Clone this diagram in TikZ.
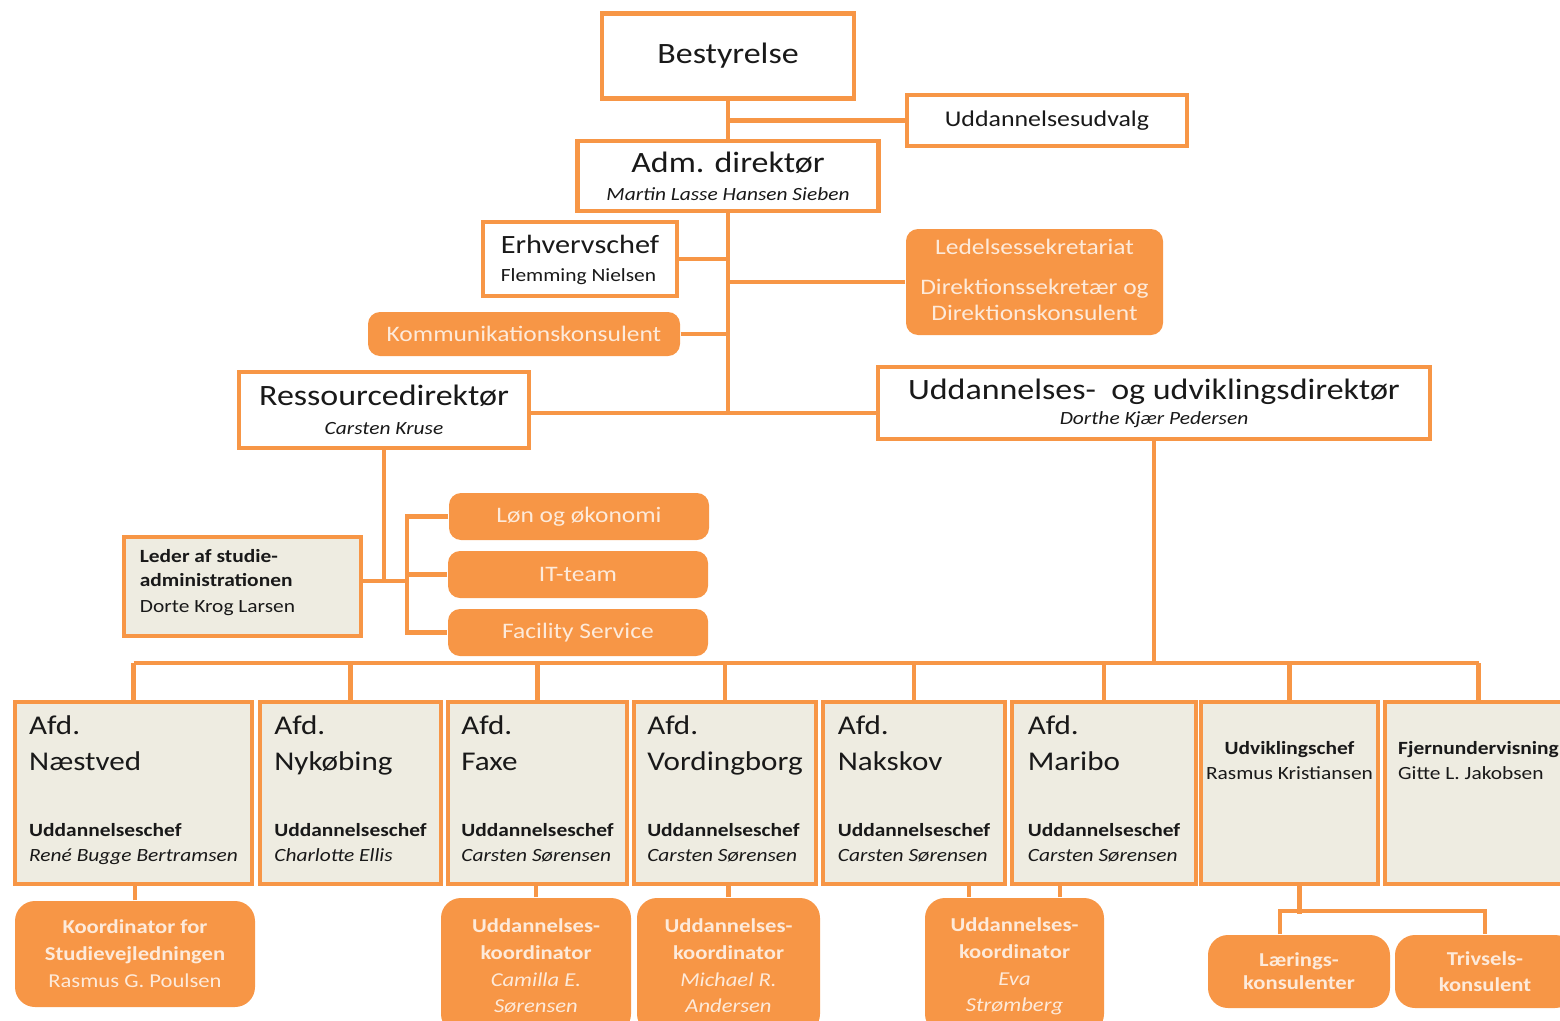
\documentclass[tikz,border=0pt]{standalone}
\usepackage{fontspec}
\setmainfont{Carlito}[FakeStretch=1.15]
\usetikzlibrary{backgrounds}

\definecolor{orangeline}{RGB}{247,150,70}
\definecolor{orangefill}{RGB}{247,150,70}
\definecolor{cream}{RGB}{253,234,218}
\definecolor{greyfill}{RGB}{238,236,225}
\definecolor{darktext}{RGB}{25,25,25}

\newcommand{\fsTitle}{\fontsize{8.4}{10}\selectfont}
\newcommand{\fsAfd}{\fontsize{7.7}{9}\selectfont}
\newcommand{\fsErh}{\fontsize{7.5}{9}\selectfont}
\newcommand{\fsMid}{\fontsize{6.3}{8}\selectfont}
\newcommand{\fsUdv}{\fontsize{6.4}{8}\selectfont}

\begin{document}
\begin{tikzpicture}[x=0.1mm,y=-0.1mm,
  box/.style={draw=orangeline,line width=1.2pt,fill=white,inner sep=0pt,
    text=darktext,align=center,font=\fontsize{5.3}{7}\selectfont},
  afdbox/.style={box,fill=greyfill,align=left,minimum height=18.2mm},
  orangebox/.style={fill=orangefill,rounded corners=1.2mm,inner sep=0pt,
    text=cream,align=center,font=\fontsize{5.3}{7}\selectfont},
  koordbox/.style={orangebox,rounded corners=2mm,font=\fontsize{5.6}{7}\selectfont},
  conn/.style={draw=orangeline,line width=1.2pt}]
\useasboundingbox (0,0) rectangle (1560,1021);
% ---------- top ----------
\node[box,minimum width=25.2mm,minimum height=8.5mm] (bestyrelse) at (728,56) {\fsTitle Bestyrelse};
\node[box,minimum width=28mm,minimum height=5.1mm] (udvalg) at (1047,120.5) {\fsUdv Uddannelsesudvalg};
\node[box,minimum width=30.1mm,minimum height=7mm] (adm) at (728,176)
  {\fsTitle Adm. direktør\\[1pt]\itshape Martin Lasse Hansen Sieben};
\node[box,align=left,minimum width=19.4mm,minimum height=7.4mm] (erhverv) at (580,259)
  {\fsErh Erhvervschef\\[1pt]Flemming Nielsen\\[-6.8pt]};
\node[orangebox,minimum width=25.7mm,minimum height=10.6mm] (ledelse) at (1034.5,282)
  {\fsMid Ledelsessekretariat\\[4.4pt]\fsMid Direktionssekretær og\\[0.4pt]\fsMid Direktionskonsulent\\[-6pt]};
\node[orangebox,minimum width=31.2mm,minimum height=4.4mm] (komm) at (524,334) {\fsMid Kommunikationskonsulent};
\node[box,minimum width=29mm,minimum height=7.6mm] (ressource) at (384,410)
  {\fsTitle Ressourcedirektør\\[1.3pt]\itshape Carsten Kruse};
\node[box,minimum width=55.2mm,minimum height=7.2mm] (uddir) at (1154,403)
  {\fsTitle Uddannelses-\ \ og udviklingsdirektør\\[0.1pt]\itshape Dorthe Kjær Pedersen};
% ---------- ressourceomraadet ----------
\node[box,fill=greyfill,align=left,minimum width=23.7mm,minimum height=9.9mm] (leder) at (242.5,586.5)
  {\bfseries Leder af studie-\\[-0.2pt]\bfseries administrationen\\[0.4pt]Dorte Krog Larsen\rule{5mm}{0pt}\\[-3.7pt]};
\node[orangebox,minimum width=26mm,minimum height=4.7mm] (loen) at (579,516.5) {\fsMid Løn og økonomi};
\node[orangebox,minimum width=26mm,minimum height=4.7mm] (it) at (578,574.5) {\fsMid IT-team};
\node[orangebox,minimum width=26mm,minimum height=4.7mm] (facility) at (578,632.5) {\fsMid Facility Service};
% ---------- afdelinger ----------
\node[afdbox,minimum width=23.7mm] (naestved) at (133.5,793)
  {\fsAfd Afd.\\[3.2pt]\fsAfd Næstved\\[11.8pt]\bfseries Uddannelseschef\\[0.1pt]\itshape René Bugge Bertramsen\\[-4.6pt]};
\node[afdbox,minimum width=18.1mm] (nykoebing) at (350.5,793)
  {\fsAfd Afd.\\[3.2pt]\fsAfd Nykøbing\\[11.8pt]\bfseries Uddannelseschef\\[0.1pt]\itshape Charlotte Ellis\\[-4.6pt]};
\node[afdbox,minimum width=17.9mm] (faxe) at (537.5,793)
  {\fsAfd Afd.\\[3.2pt]\fsAfd Faxe\\[11.8pt]\bfseries Uddannelseschef\\[0.1pt]\itshape Carsten Sørensen\\[-4.6pt]};
\node[afdbox,minimum width=18.2mm] (vording) at (725,793)
  {\fsAfd Afd.\\[3.2pt]\fsAfd Vordingborg\\[11.8pt]\bfseries Uddannelseschef\\[0.1pt]\itshape Carsten Sørensen\\[-4.6pt]};
\node[afdbox,minimum width=18.2mm] (nakskov) at (914,793)
  {\fsAfd Afd.\\[3.2pt]\fsAfd Nakskov\\[11.8pt]\bfseries Uddannelseschef\\[0.1pt]\itshape Carsten Sørensen\\[-4.6pt]};
\node[afdbox,minimum width=18.4mm] (maribo) at (1104,793)
  {\fsAfd Afd.\\[3.2pt]\fsAfd Maribo\\[11.8pt]\bfseries Uddannelseschef\\[0.1pt]\itshape Carsten Sørensen\\[-4.6pt]};
\node[afdbox,align=center,minimum width=17.7mm] (udvikling) at (1289.5,793)
  {\bfseries Udviklingschef\\[0.1pt]Rasmus Kristiansen\\[11.7pt]};
\node[afdbox,minimum width=18.7mm] (fjern) at (1478.5,793)
  {\bfseries Fjernundervisning\\[0.1pt]Gitte L. Jakobsen\\[11.7pt]};
% ---------- koordinatorer ----------
\node[koordbox,minimum width=24mm,minimum height=10.6mm] (koord) at (135,954)
  {\bfseries Koordinator for\\[0.7pt]\bfseries Studievejledningen\\[0.7pt]Rasmus G. Poulsen};
\node[koordbox,minimum width=19mm,minimum height=13.6mm] (faxek) at (536,966)
  {\bfseries Uddannelses-\\[0.7pt]\bfseries koordinator\\[0.7pt]\itshape Camilla E.\\[0.4pt]\itshape Sørensen};
\node[koordbox,minimum width=18.3mm,minimum height=13.6mm] (vordk) at (728.5,966)
  {\bfseries Uddannelses-\\[0.7pt]\bfseries koordinator\\[0.7pt]\itshape Michael R.\\[0.4pt]\itshape Andersen};
\node[koordbox,minimum width=17.9mm,minimum height=13.6mm] (evak) at (1014.5,966)
  {\bfseries Uddannelses-\\[0.7pt]\bfseries koordinator\\[0.7pt]\itshape Eva\\[0.4pt]\itshape Strømberg};
\node[koordbox,minimum width=18.2mm,minimum height=7.3mm] (laer) at (1299,971.5)
  {\bfseries Lærings-\\[-0.5pt]\bfseries konsulenter};
\node[koordbox,minimum width=18mm,minimum height=7.3mm] (trivsel) at (1485,971.5)
  {\bfseries Trivsels-\\[0.4pt]\bfseries konsulent};
% ---------- forbindelser ----------
\coordinate (midline) at (0,413);
\coordinate (resbar) at (407,0);
\coordinate (bus) at (0,663);
\coordinate (lederjoint) at ([yshift=0.55mm]leder.east);
\begin{scope}[on background layer]
\draw[conn] (bestyrelse) -- (adm);
\draw[conn] (udvalg.west) -- (udvalg.west -| adm.north);
\draw[conn] (adm.south) -- (adm.south |- midline);
\draw[conn] (erhverv.east) -- (erhverv.east -| adm.south);
\draw[conn] (ledelse.west) -- (ledelse.west -| adm.south);
\draw[conn] (komm.east) -- (komm.east -| adm.south);
\draw[conn] (ressource.east |- midline) -- (uddir.west |- midline);
% ressourcedirektoer
\draw[conn] (ressource.south) -- (ressource.south |- lederjoint);
\draw[conn] (lederjoint) -- (lederjoint -| resbar);
\draw[conn] (loen.west) -- (loen.west -| resbar) -- (facility.west -| resbar) -- (facility.west);
\draw[conn] (it.west) -- (it.west -| resbar);
% bus til afdelinger
\draw[conn] (uddir.south) -- (uddir.south |- bus);
\draw[conn] (naestved.north |- bus) -- (fjern.north |- bus);
\draw[conn] (naestved.north) -- (naestved.north |- bus);
\draw[conn] (nykoebing.north) -- (nykoebing.north |- bus);
\draw[conn] (faxe.north) -- (faxe.north |- bus);
\draw[conn] (vording.north) -- (vording.north |- bus);
\draw[conn] (nakskov.north) -- (nakskov.north |- bus);
\draw[conn] (maribo.north) -- (maribo.north |- bus);
\draw[conn] (udvikling.north) -- (udvikling.north |- bus);
\draw[conn] (fjern.north) -- (fjern.north |- bus);
% koordinatorer
\draw[conn] (koord.north) -- (koord.north |- naestved.south);
\draw[conn] (faxek.north) -- (faxek.north |- faxe.south);
\draw[conn] (vordk.north) -- (vordk.north |- vording.south);
\draw[conn] ([xshift=-4.55mm]evak.north) -- ([xshift=-4.55mm]evak.north |- nakskov.south);
\draw[conn] ([xshift=4.55mm]evak.north) -- ([xshift=4.55mm]evak.north |- maribo.south);
\draw[conn] ([xshift=1mm]udvikling.south) -- ++(0,28);
\draw[conn] ([xshift=-1.9mm]laer.north) -- ++(0,-23) -| (trivsel.north);
\end{scope}
\end{tikzpicture}
\end{document}
